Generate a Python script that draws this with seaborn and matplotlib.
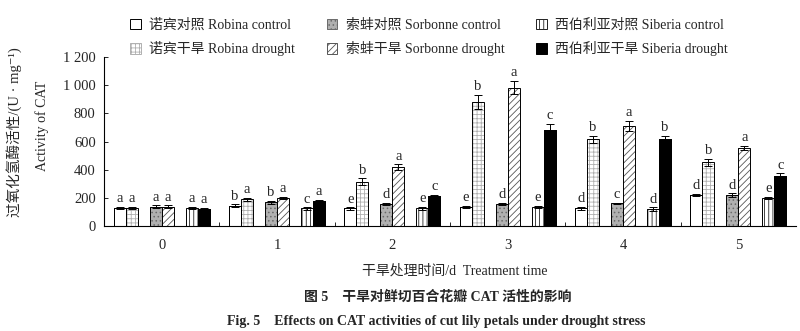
import numpy as np
import pandas as pd
import matplotlib
matplotlib.use("Agg")
import matplotlib.pyplot as plt
import seaborn as sns
from matplotlib.patches import Patch, Rectangle
from matplotlib.ticker import FixedLocator, FuncFormatter

# ---------------- data ----------------
days = ["0", "1", "2", "3", "4", "5"]
series = ["诺宾对照 Robina control", "诺宾干旱 Robina drought",
          "索蚌对照 Sorbonne control", "索蚌干旱 Sorbonne drought",
          "西伯利亚对照 Siberia control", "西伯利亚干旱 Siberia drought"]

robina_control = [130, 145, 125, 137, 125, 220]
robina_drought = [128, 189, 314, 881, 615, 452]
sorbonne_control = [137, 168, 156, 156, 161, 220]
sorbonne_drought = [137, 200, 420, 983, 709, 555]
siberia_control = [130, 125, 125, 137, 120, 201]
siberia_drought = [123, 178, 215, 681, 615, 355]

robina_control_err = [8, 10, 8, 8, 10, 10]
robina_drought_err = [10, 10, 24, 50, 24, 24]
sorbonne_control_err = [10, 10, 8, 8, 6, 12]
sorbonne_drought_err = [10, 8, 19, 47, 38, 15]
siberia_control_err = [6, 8, 10, 8, 12, 8]
siberia_drought_err = [4, 8, 7, 42, 24, 19]

robina_control_sig = ["a", "b", "e", "e", "d", "d"]
robina_drought_sig = ["a", "a", "b", "b", "b", "b"]
sorbonne_control_sig = ["a", "b", "d", "d", "c", "d"]
sorbonne_drought_sig = ["a", "a", "a", "a", "a", "a"]
siberia_control_sig = ["a", "c", "e", "e", "d", "e"]
siberia_drought_sig = ["a", "a", "c", "c", "b", "c"]

y_ticks = [0, 200, 400, 600, 800, 1000, 1200]

values = [robina_control, robina_drought, sorbonne_control,
          sorbonne_drought, siberia_control, siberia_drought]
errors = [robina_control_err, robina_drought_err, sorbonne_control_err,
          sorbonne_drought_err, siberia_control_err, siberia_drought_err]
sigs = [robina_control_sig, robina_drought_sig, sorbonne_control_sig,
        sorbonne_drought_sig, siberia_control_sig, siberia_drought_sig]

rows = []
for s, vals in zip(series, values):
    for d, v in zip(days, vals):
        rows.append({"day": d, "series": s, "value": v})
df = pd.DataFrame(rows)

gap_a, gap_b = " ", "  "
hue_order = [series[0], series[1], gap_a, series[2], series[3], gap_b,
             series[4], series[5]]
slot_to_series = {0: 0, 1: 1, 3: 2, 4: 3, 6: 4, 7: 5}
BAR_W = 0.83

styles = [
    dict(facecolor="white", hatch=None, hcolor="black"),
    dict(facecolor="white", hatch="++++", hcolor="#b0b0b0"),
    dict(facecolor="#b0b0b0", hatch="....", hcolor="#6a6a6a"),
    dict(facecolor="white", hatch="/////", hcolor="#555555"),
    dict(facecolor="white", hatch="||||", hcolor="#222222"),
    dict(facecolor="black", hatch=None, hcolor="black"),
]
palette = {h: "white" for h in hue_order}

# ---------------- figure ----------------
sns.set_style("ticks")
FAM = ["Liberation Serif", "Noto Sans CJK SC", "DejaVu Sans"]
plt.rcParams["font.family"] = FAM
plt.rcParams["hatch.linewidth"] = 0.6

fig = plt.figure(figsize=(8.0, 3.31), dpi=100)
ax = fig.add_axes([0.13, 0.317, 0.865, 0.511])

sns.barplot(data=df, x="day", y="value", hue="series", order=days,
            hue_order=hue_order, palette=palette, width=BAR_W, dodge=True,
            errorbar=None, legend=False, ax=ax, saturation=1)

slot_w = BAR_W / len(hue_order)
centers = {i: [None] * len(days) for i in range(6)}
for p in list(ax.patches):
    h = p.get_height()
    if h is None or not np.isfinite(h) or h <= 0:
        continue
    x0, w = p.get_x(), p.get_width()
    xc = x0 + w / 2
    d = int(round(xc))
    k = int(round((xc - d) / slot_w + (len(hue_order) - 1) / 2))
    if k not in slot_to_series:
        continue
    i = slot_to_series[k]
    st = styles[i]
    p.set_facecolor(st["facecolor"])
    p.set_edgecolor(st["hcolor"])
    p.set_linewidth(0.0 if st["hatch"] else 0.7)
    if st["hatch"]:
        p.set_hatch(st["hatch"])
    ax.add_patch(Rectangle((x0, p.get_y()), w, h, fill=False,
                           edgecolor="black", linewidth=0.7, zorder=1.5))
    centers[i][d] = xc

for i in range(6):
    xs = centers[i]
    ax.errorbar(xs, values[i], yerr=errors[i], fmt="none", ecolor="black",
                elinewidth=0.7, capsize=3, capthick=0.7, zorder=3)
    for x, v, e, s in zip(xs, values[i], errors[i], sigs[i]):
        ax.text(x, v + e + 12, s, ha="center", va="bottom", fontsize=10.5,
                family=FAM)

ax.set_xlim(-0.5, 5.5)
ax.set_ylim(0, 1200)
ax.yaxis.set_major_locator(FixedLocator(y_ticks))
ax.yaxis.set_major_formatter(FuncFormatter(
    lambda v, p: f"{int(v):,}".replace(",", " ")))
ax.tick_params(axis="y", direction="in", length=3, width=0.7, labelsize=10.5,
               pad=6)
ax.tick_params(axis="x", which="major", length=0, labelsize=10.5, pad=9)
ax.xaxis.set_minor_locator(FixedLocator([0.5, 1.5, 2.5, 3.5, 4.5]))
ax.tick_params(axis="x", which="minor", direction="in", length=3, width=0.7)
for lab in ax.get_xticklabels() + ax.get_yticklabels():
    lab.set_family(FAM)
ax.set_xlabel("")
ax.set_ylabel("")
sns.despine(ax=ax)
for sp in ("left", "bottom"):
    ax.spines[sp].set_linewidth(0.8)
    ax.spines[sp].set_color("black")

# y labels
fig.text(0.017, 0.60, "过氧化氢酶活性/(U · mg⁻¹)", rotation=90,
         ha="center", va="center", fontsize=10.5, family=FAM)
fig.text(0.053, 0.62, "Activity of CAT", rotation=90, ha="center",
         va="center", fontsize=10, family=FAM)

# x label and captions
fig.text(0.568, 0.183, "干旱处理时间/d  Treatment time", ha="center",
         va="center", fontsize=10, family=FAM)
fig.text(0.547, 0.103, "图 5    干旱对鲜切百合花瓣 CAT 活性的影响",
         ha="center", va="center", fontsize=10, fontweight="bold",
         family=FAM)
fig.text(0.545, 0.030,
         "Fig. 5    Effects on CAT activities of cut lily petals under drought stress",
         ha="center", va="center", fontsize=10, fontweight="bold", family=FAM)

# legend
handles = []
for st in styles:
    handles.append(Patch(facecolor=st["facecolor"],
                         edgecolor=st["hcolor"] if st["hatch"] else "black",
                         hatch=st["hatch"], linewidth=0.7))
leg = fig.legend(handles, series, ncol=3, loc="center left",
                 bbox_to_anchor=(0.163, 0.887), frameon=False,
                 prop={"family": FAM, "size": 10}, handlelength=0.75,
                 handleheight=0.75, handletextpad=0.6, columnspacing=2.3,
                 labelspacing=0.7, borderpad=0, borderaxespad=0)

fig.savefig("out.png", dpi=100, facecolor="white")
